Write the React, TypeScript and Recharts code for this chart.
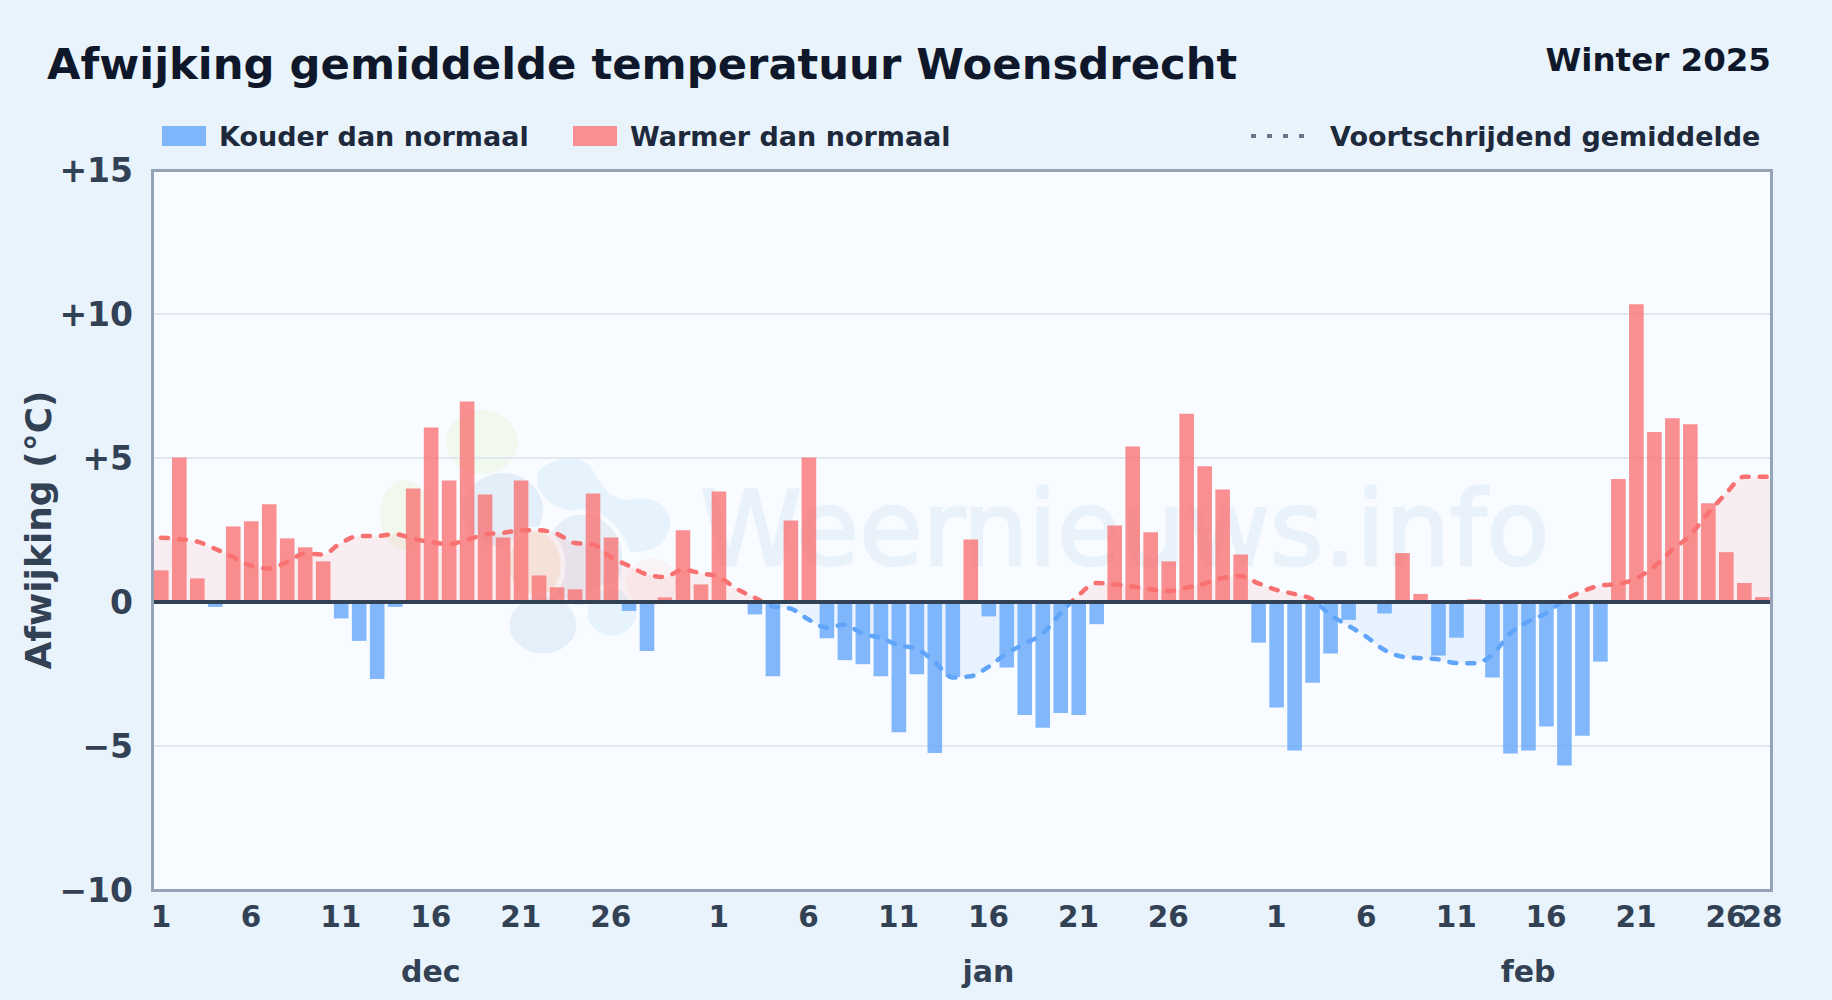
import { ComposedChart, Area, Bar, Cell, XAxis, YAxis, CartesianGrid, ReferenceLine } from "recharts";

// afwijking per dag, 1 dec t/m 28 feb
const decValues = [1.1, 5.02, 0.82, -0.17, 2.62, 2.8, 3.39, 2.21, 1.9, 1.41, -0.57, -1.35, -2.67, -0.17, 3.94, 6.06, 4.22, 6.96, 3.73, 2.24, 4.22, 0.92, 0.51, 0.44, 3.77, 2.24, -0.31, -1.7, 0.16, 2.49, 0.61];
const janValues = [3.84, 0.02, -0.43, -2.58, 2.83, 5.02, -1.26, -2.02, -2.16, -2.58, -4.52, -2.51, -5.24, -2.6, 2.17, -0.5, -2.27, -3.92, -4.37, -3.85, -3.92, -0.77, 2.66, 5.4, 2.42, 1.41, 6.54, 4.71, 3.91, 1.65, -1.41];
const febValues = [-3.66, -5.16, -2.8, -1.79, -0.62, 0.0, -0.4, 1.7, 0.28, -1.86, -1.24, 0.1, -2.62, -5.26, -5.16, -4.32, -5.68, -4.64, -2.07, 4.27, 10.34, 5.9, 6.38, 6.17, 3.43, 1.73, 0.66, 0.17];

// voortschrijdend gemiddelde
const decAvg = [2.23, 2.18, 2.1, 1.85, 1.56, 1.26, 1.16, 1.39, 1.68, 1.65, 2.05, 2.29, 2.29, 2.36, 2.2, 2.08, 2.01, 2.16, 2.34, 2.4, 2.49, 2.49, 2.37, 2.05, 2.0, 1.56, 1.26, 0.96, 0.87, 1.12, 1.0];
const janAvg = [0.87, 0.46, 0.15, -0.15, -0.23, -0.61, -0.89, -0.79, -1.1, -1.25, -1.5, -1.62, -2.08, -2.62, -2.58, -2.25, -1.79, -1.45, -1.1, -0.4, 0.23, 0.66, 0.61, 0.54, 0.44, 0.38, 0.5, 0.64, 0.83, 0.9, 0.65];
const febAvg = [0.42, 0.28, 0.09, -0.45, -0.82, -1.2, -1.66, -1.9, -1.95, -1.99, -2.12, -2.13, -1.84, -1.09, -0.68, -0.39, 0.07, 0.36, 0.57, 0.62, 0.82, 1.23, 1.8, 2.32, 3.08, 3.77, 4.35, 4.35];

const dayTicks = [1, 6, 11, 16, 21, 26, 32, 37, 42, 47, 52, 57, 63, 68, 73, 78, 83, 88, 90];
const dayLabels = ["1", "6", "11", "16", "21", "26", "1", "6", "11", "16", "21", "26", "1", "6", "11", "16", "21", "26", "28"];
const monthTicks = [16, 47, 77];
const monthLabels = ["dec", "jan", "feb"];
const yTicks = [-10, -5, 0, 5, 10, 15];

const values = [...decValues, ...janValues, ...febValues];
const avg = [...decAvg, ...janAvg, ...febAvg];

// de lijn loopt door tot buiten de plot, de randen knippen hem af
const chartData = [
  { day: 0, avg: 2.22 },
  ...values.map((v, i) => ({ day: i + 1, value: v, avg: avg[i] })),
  { day: 91, avg: 4.32 },
];

const RED = "#f87171";
const BLUE = "#60a5fa";
const BAR_RED = "#f98f90";
const BAR_BLUE = "#80b6fb";
const INK = "#334155";
const FONT = "'DejaVu Sans', sans-serif";
const HALO = "#f8fbff";
const MARK = "#e9f2fb";

const PLOT = { left: 152, top: 170, right: 1771, bottom: 890 };
const plotW = PLOT.right - PLOT.left;
const plotH = PLOT.bottom - PLOT.top;
const zeroOffset = "60%";

function formatY(v: number) {
  if (v > 0) return "+" + v;
  if (v < 0) return "\u2212" + Math.abs(v);
  return "0";
}

function Watermark() {
  return (
    <svg width={1832} height={1000} style={{ position: "absolute", left: 0, top: 0 }}>
      <ellipse cx={482} cy={442} rx={36} ry={32} fill="#f1f8ed" />
      <ellipse cx={405} cy={515} rx={25} ry={35} fill="#f1f8ed" />
      <ellipse cx={503} cy={510} rx={40} ry={37} fill="#e4eef9" />
      <path
        d="M537 478 C537 462,575 450,590 466 C600 480,605 498,627 500 C650 494,672 505,670 525 C668 545,650 553,630 552 C625 530,605 514,585 512 C560 512,537 500,537 478Z"
        fill="#e6f3fd"
      />
      <ellipse cx={583} cy={560} rx={42} ry={48} fill="#e6eef8" stroke={HALO} strokeWidth={5} />
      <ellipse cx={535} cy={565} rx={28} ry={36} fill="#f6eee4" stroke={HALO} strokeWidth={5} />
      <ellipse cx={543} cy={625} rx={36} ry={31} fill="#e5eff9" stroke={HALO} strokeWidth={5} />
      <ellipse cx={612} cy={612} rx={27} ry={26} fill="#e6f3fd" stroke={HALO} strokeWidth={5} />
      <ellipse cx={652} cy={582} rx={28} ry={26} fill="#f9f3f6" stroke={HALO} strokeWidth={5} />
      <text x={700} y={565} fontFamily={FONT} fontSize={103} fill={MARK} stroke={MARK} strokeWidth={2.5}>
        Weernieuws.info
      </text>
    </svg>
  );
}

function LegendRow() {
  const text = { position: "absolute", top: 120, fontSize: 27, fontWeight: 700, color: "#1e293b", lineHeight: "34px", whiteSpace: "nowrap" } as const;
  return (
    <>
      <div style={{ position: "absolute", left: 162, top: 126, width: 44, height: 20, background: BAR_BLUE }} />
      <div style={{ ...text, left: 219 }}>Kouder dan normaal</div>
      <div style={{ position: "absolute", left: 573, top: 126, width: 44, height: 20, background: BAR_RED }} />
      <div style={{ ...text, left: 630 }}>Warmer dan normaal</div>
      <svg width={60} height={10} style={{ position: "absolute", left: 1250, top: 131 }}>
        <line x1={1} y1={5} x2={59} y2={5} stroke="#64748b" strokeWidth={4} strokeDasharray="5 11" />
      </svg>
      <div style={{ ...text, left: 1330 }}>Voortschrijdend gemiddelde</div>
    </>
  );
}

export default function App() {
  return (
    <div style={{ position: "absolute", left: 0, top: 0, width: 1832, height: 1000, background: "#e8f3fc", fontFamily: FONT, overflow: "hidden" }}>
      <div style={{ position: "absolute", left: 47, top: 39, fontSize: 43.3, fontWeight: 700, color: "#0f172a", whiteSpace: "nowrap" }}>
        Afwijking gemiddelde temperatuur Woensdrecht
      </div>
      <div style={{ position: "absolute", right: 61, top: 41, fontSize: 32.5, fontWeight: 700, color: "#0f172a", whiteSpace: "nowrap" }}>
        Winter 2025
      </div>
      <LegendRow />
      <div style={{ position: "absolute", left: PLOT.left, top: PLOT.top, width: plotW, height: plotH, background: HALO }} />
      <Watermark />
      <div style={{ position: "absolute", left: PLOT.left - 1.5, top: PLOT.top - 1.5, width: plotW + 3, height: plotH + 3, boxSizing: "border-box", border: "3px solid #94a3b8", zIndex: 4 }} />
      <div style={{ position: "absolute", left: 0, top: 0, zIndex: 3 }}>
        <ComposedChart
          width={1832}
          height={1000}
          data={chartData}
          margin={{ top: PLOT.top, right: 1832 - PLOT.right, bottom: 0, left: 0 }}
          barSize={14.6}
        >
          <defs>
            <linearGradient id="avgStroke" gradientUnits="userSpaceOnUse" x1="0" y1={PLOT.top} x2="0" y2={PLOT.bottom}>
              <stop offset={zeroOffset} stopColor={RED} />
              <stop offset={zeroOffset} stopColor={BLUE} />
            </linearGradient>
            <linearGradient id="avgFill" gradientUnits="userSpaceOnUse" x1="0" y1={PLOT.top} x2="0" y2={PLOT.bottom}>
              <stop offset={zeroOffset} stopColor={RED} stopOpacity={0.17} />
              <stop offset={zeroOffset} stopColor={BLUE} stopOpacity={0.17} />
            </linearGradient>
          </defs>
          <CartesianGrid vertical={false} stroke="#e2e8f0" strokeWidth={2} />
          <XAxis
            dataKey="day"
            type="number"
            domain={[0.5, 90.5]}
            allowDataOverflow
            ticks={dayTicks}
            interval={0}
            tickFormatter={(d) => dayLabels[dayTicks.indexOf(d)]}
            tick={{ fill: INK, fontSize: 29.5, fontWeight: 700 }}
            tickLine={false}
            axisLine={false}
            height={55}
            tickMargin={10}
          />
          <XAxis
            xAxisId="month"
            dataKey="day"
            type="number"
            domain={[0.5, 90.5]}
            allowDataOverflow
            ticks={monthTicks}
            interval={0}
            tickFormatter={(d) => monthLabels[monthTicks.indexOf(d)]}
            tick={{ fill: INK, fontSize: 30, fontWeight: 700 }}
            tickLine={false}
            axisLine={false}
            height={55}
            tickMargin={10}
          />
          <YAxis
            type="number"
            domain={[-10, 15]}
            ticks={yTicks}
            interval={0}
            tickFormatter={formatY}
            tick={{ fill: INK, fontSize: 33, fontWeight: 700 }}
            tickLine={false}
            axisLine={false}
            width={152}
            tickMargin={13}
            label={{ value: "Afwijking (\u00b0C)", angle: -90, position: "insideLeft", offset: 38, style: { fill: INK, fontSize: 36, fontWeight: 700, textAnchor: "middle" } }}
          />
          <Area
            dataKey="avg"
            type="monotone"
            baseValue={0}
            stroke="url(#avgStroke)"
            strokeWidth={4.5}
            strokeDasharray="7 11"
            strokeLinecap="round"
            fill="url(#avgFill)"
            isAnimationActive={false}
            dot={false}
            activeDot={false}
          />
          <Bar dataKey="value" isAnimationActive={false}>
            {chartData.map((d) => (
              <Cell key={d.day} fill={(d.value ?? 0) < 0 ? BLUE : RED} fillOpacity={0.78} />
            ))}
          </Bar>
          <ReferenceLine y={0} stroke={INK} strokeWidth={4} />
        </ComposedChart>
      </div>
    </div>
  );
}
